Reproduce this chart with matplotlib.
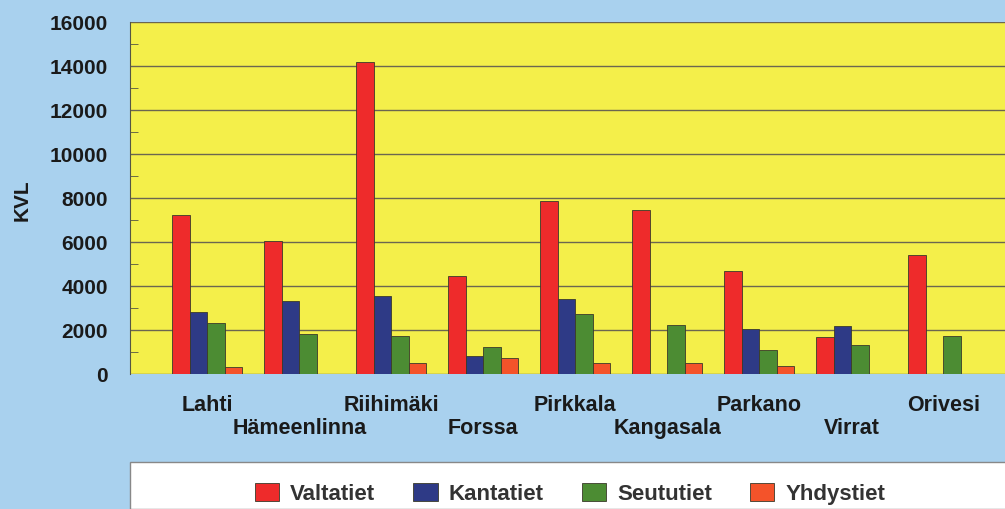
import numpy as np
import matplotlib.pyplot as plt
from matplotlib.patches import Rectangle

# Data (KVL per town and road class)
towns = ['Lahti', 'Hämeenlinna', 'Riihimäki', 'Forssa', 'Pirkkala',
         'Kangasala', 'Parkano', 'Virrat', 'Orivesi']
valtatiet = [7250, 6050, 14200, 4450, 7850, 7450, 4700, 1700, 5400]
kantatiet = [2800, 3300, 3550, 800, 3400, 0, 2050, 2200, 0]
seututiet = [2300, 1800, 1750, 1250, 2750, 2250, 1100, 1300, 1750]
yhdystiet = [330, 0, 500, 750, 500, 500, 350, 0, 0]
series_names = ['Valtatiet', 'Kantatiet', 'Seututiet', 'Yhdystiet']
yticks = np.arange(0, 16001, 2000)

colors = ['#ee2b2b', '#2e3a86', '#4c8c33', '#f4532a']
bg = '#a9d1ee'
plot_bg = '#f4ef4a'

fig = plt.figure(figsize=(10.05, 5.09), dpi=100)
fig.patch.set_facecolor(bg)
ax = fig.add_axes([130 / 1005, 1 - 374 / 509, 1 - 130 / 1005, 352 / 509])
ax.set_facecolor(plot_bg)

x = np.arange(len(towns))
w = 0.19
for i, (vals, name) in enumerate(zip([valtatiet, kantatiet, seututiet, yhdystiet], series_names)):
    ax.bar(x + (i - 1.5) * w, vals, width=w, color=colors[i], edgecolor='#3a3a2a',
           linewidth=0.6, label=name, zorder=3)

ax.set_xlim(-0.84, 8.67)
ax.set_ylim(0, 16000)
ax.set_yticks(yticks)
ax.set_yticks(np.arange(1000, 16000, 2000), minor=True)
ax.set_yticklabels([str(v) for v in yticks], fontsize=15, fontweight='bold',
                   family='Liberation Sans', color='#1a1a1a')
ax.tick_params(axis='y', which='major', length=0, pad=16)
ax.tick_params(axis='y', which='minor', direction='in', length=6, color='#555544')
ax.grid(axis='y', color='#6b6650', linewidth=1.0, zorder=1)

# staggered category labels: even ones as major ticks, odd ones as minor ticks lower down
lab_kw = dict(fontsize=15.5, fontweight='bold', family='Liberation Sans', color='#1a1a1a')
ax.set_xticks(x[::2])
ax.set_xticklabels(towns[::2], **lab_kw)
ax.set_xticks(x[1::2], minor=True)
ax.set_xticklabels(towns[1::2], minor=True, **lab_kw)
ax.tick_params(axis='x', which='major', length=0, pad=15)
ax.tick_params(axis='x', which='minor', length=0, pad=32)

for s in ['top', 'right', 'bottom']:
    ax.spines[s].set_visible(False)
ax.spines['left'].set_color('#555544')

fig.text(22 / 1005, 1 - 200 / 509, 'KVL', rotation=90, fontsize=15, fontweight='bold',
         family='Liberation Sans', ha='center', va='center', color='#1a1a1a')

# legend box
fig.patches.append(Rectangle((130 / 1005, 0), 1, (509 - 462) / 509, transform=fig.transFigure,
                             facecolor='white', edgecolor='#888888', linewidth=1.0, zorder=0))
leg = fig.legend(loc='center', bbox_to_anchor=(570 / 1005, 1 - 494 / 509), ncol=4,
                 frameon=False, handlelength=1.1, handleheight=0.85, handletextpad=0.5,
                 columnspacing=1.7,
                 prop={'family': 'Liberation Sans', 'weight': 'bold', 'size': 16})
for t in leg.get_texts():
    t.set_color('#333333')

fig.savefig('out.png', dpi=100, facecolor=bg)
